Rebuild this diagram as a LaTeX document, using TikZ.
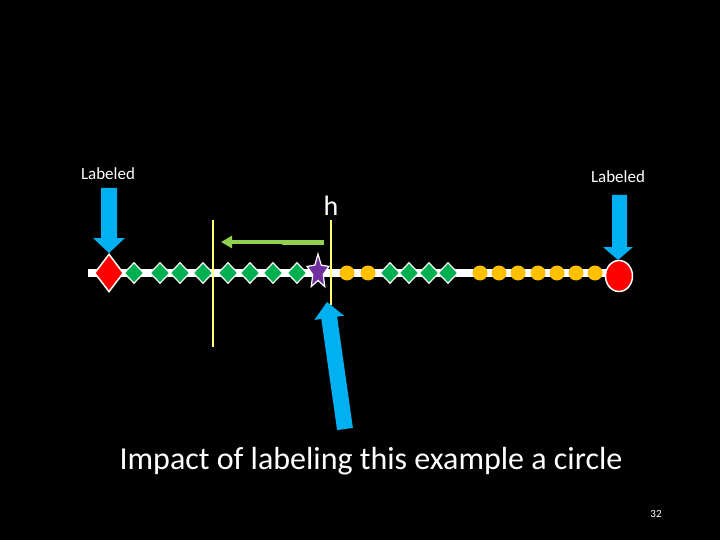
\documentclass[tikz,border=0pt]{standalone}
\usepackage{fontspec}
\setmainfont{Carlito}
\usetikzlibrary{shapes.geometric,arrows.meta}
\definecolor{markgreen}{RGB}{0,176,80}
\definecolor{markorange}{RGB}{255,192,0}
\definecolor{markblue}{RGB}{0,176,240}
\definecolor{markpurple}{RGB}{112,48,160}
\definecolor{hline}{RGB}{255,255,120}
\definecolor{shiftgreen}{RGB}{146,208,80}
\tikzset{
  greenmark/.style={diamond,draw=white,line width=1.2pt,fill=markgreen,inner sep=0pt,minimum width=20pt,minimum height=21pt},
  orangemark/.style={circle,fill=markorange,inner sep=0pt,minimum size=15pt},
  bigmark/.style={draw=white,line width=1.5pt,fill=red,inner sep=0pt},
  bluearrow/.style={fill=markblue},
  label/.style={text=white,font=\fontsize{17}{20}\selectfont}
}
\begin{document}
\begin{tikzpicture}[x=1pt,y=-1pt]
  \useasboundingbox[fill=black] (0,0) rectangle (720,540);
  % the line
  \draw[white,line width=8pt] (88,273) -- (620,273);
  % threshold lines
  \draw[hline,line width=1.2pt] (213,220) -- (213,347);
  \draw[hline,line width=1.2pt] (331,220) -- (331,305);
  % markers
  \node[bigmark,diamond,minimum width=29pt,minimum height=38pt] (neg) at (109,273) {};
  \foreach \x [count=\i] in {134,160,180,203,228,250,273,297}
    \node[greenmark] (g\i) at (\x,273) {};
  \foreach \x [count=\i] in {390,409,429,448}
    \node[greenmark] (h\i) at (\x,273) {};
  \foreach \x [count=\i] in {347,368,480,499,518,538,557,576,595}
    \node[orangemark] (o\i) at (\x,273) {};
  \node[bigmark,ellipse,minimum width=27pt,minimum height=31pt] (pos) at (619,276) {};
  % the star
  \begin{scope}[shift={(318,272)}]
    \draw[white,line width=1.2pt,fill=markpurple] (-90:11.5 and 18) -- (-54:5.5 and 8.5) -- (-18:11.5 and 18)
      -- (18:5.5 and 8.5) -- (54:11.5 and 18) -- (90:5.5 and 8.5) -- (126:11.5 and 18)
      -- (162:5.5 and 8.5) -- (198:11.5 and 18) -- (234:5.5 and 8.5) -- cycle;
  \end{scope}
  % shift of the threshold
  \draw[shiftgreen,line width=5pt] (324,242.5) -- (282,242.5);
  \draw[shiftgreen,line width=3.5pt,-{Triangle[length=11pt,width=12pt]}] (284,242) -- (221,242);
  % blue arrows
  \fill[bluearrow] (101,188) -- (117,188) -- (117,238) -- (125,238) -- (109,253) -- (93,238) -- (101,238) -- cycle;
  \fill[bluearrow] (612,195) -- (627,195) -- (627,247) -- (633,247) -- (618,260) -- (603,247) -- (612,247) -- cycle;
  \fill[bluearrow] (337.1,430.1) -- (321.3,318.9) -- (314.4,319.9) -- (327,302) -- (344,315.7)
    -- (337.1,316.7) -- (352.9,427.9) -- cycle;
  % texts
  \node[label] (lneg) at (108,174) {Labeled};
  \node[label] (lpos) at (618,177) {Labeled};
  \node[text=white,font=\fontsize{28}{32}\selectfont] (hlab) at (331,206) {h};
  \node[text=white,font=\fontsize{32}{38}\selectfont] (title) at (371,461) {Impact of labeling this example a circle};
  \node[text=white,font=\fontsize{11}{13}\selectfont] (page) at (656,514) {32};
\end{tikzpicture}
\end{document}
